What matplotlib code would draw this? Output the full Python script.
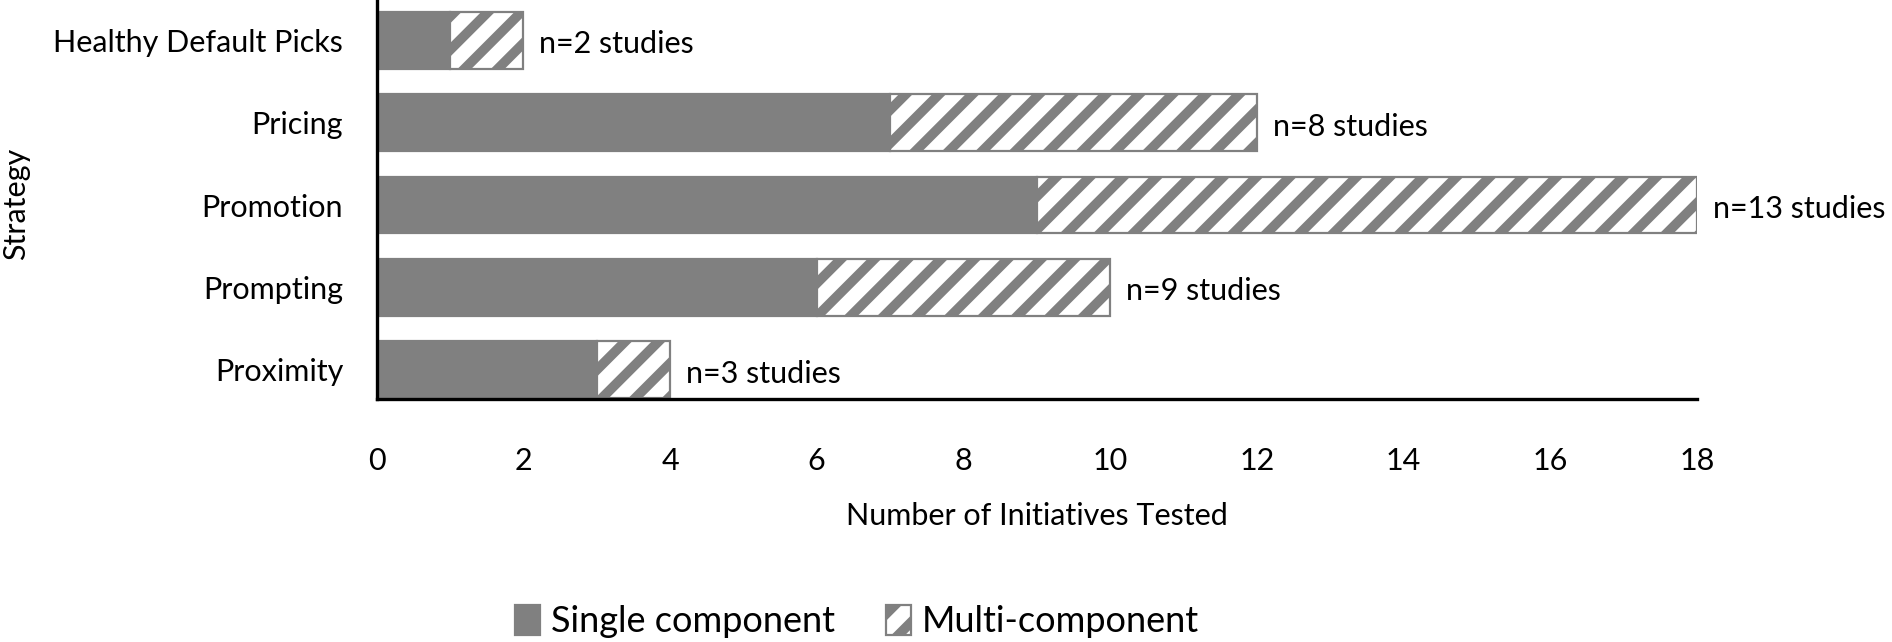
import matplotlib.pyplot as plt
import numpy as np

plt.rcParams['font.family'] = ['Lato', 'DejaVu Sans']
plt.rcParams['hatch.linewidth'] = 3.5
plt.rcParams['hatch.color'] = '#808080'

strategies = ['Healthy Default Picks', 'Pricing', 'Promotion', 'Prompting', 'Proximity']
single = [1, 7, 9, 6, 3]
multi = [1, 5, 9, 4, 1]
n_studies = [2, 8, 13, 9, 3]

y = np.arange(len(strategies))
gray = '#808080'

fig = plt.figure(figsize=(9.46, 3.21), dpi=200)
ax = fig.add_axes([0.199, 0.378, 0.698, 0.622])

ax.barh(y, single, height=0.69, color=gray, edgecolor=gray, linewidth=0.8,
        label='Single component')
ax.barh(y, multi, left=single, height=0.69, color='white', edgecolor=gray,
        linewidth=0.8, hatch='//', label='Multi-component')

for i in range(len(strategies)):
    total = single[i] + multi[i]
    ax.text(total + 0.22, y[i] + 0.05, f'n={n_studies[i]} studies',
            va='center', ha='left', fontsize=11)

ax.set_xlim(0, 18)
ax.set_ylim(4.36, -0.49)
ax.set_xticks(range(0, 19, 2))
ax.set_yticks(y)
ax.set_yticklabels(strategies)
ax.tick_params(length=0, labelsize=11, pad=12)
ax.tick_params(axis='x', pad=17)
for s in ['top', 'right']:
    ax.spines[s].set_visible(False)
for s in ['left', 'bottom']:
    ax.spines[s].set_linewidth(1.2)
ax.set_xlabel('Number of Initiatives Tested', fontsize=11, labelpad=10)
ax.set_ylabel('Strategy', fontsize=11)
ax.yaxis.set_label_coords(-0.262, 0.49)

fig.legend(loc='lower center', bbox_to_anchor=(0.453, -0.045), ncol=2,
           frameon=False, fontsize=13, handlelength=0.7, handleheight=0.9,
           handletextpad=0.3, columnspacing=1.4)

fig.savefig('out.png', dpi=200)
